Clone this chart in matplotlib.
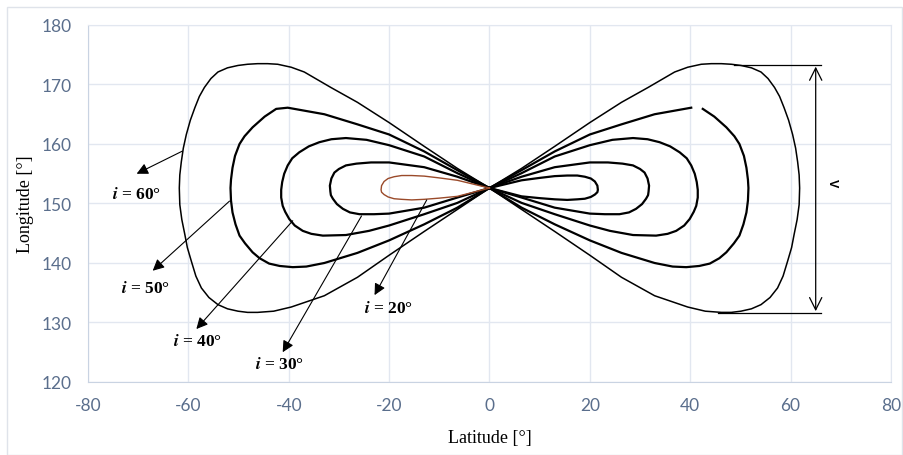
import numpy as np
import matplotlib
matplotlib.use("Agg")
import matplotlib.pyplot as plt
from matplotlib.patches import Rectangle

# ground track lobes (right lobe, upper and lower halves)
# the left lobe is the mirror image (latitude -> -latitude)
lat_60_up = [0, 6.4, 13.0, 20.0, 26.3, 31.6, 36.9, 39.5, 42.2, 44.2, 46.2, 48.2, 50.1, 52.2, 54.1,
             55.5, 56.8, 57.8, 58.7, 59.6, 60.4, 61.0, 61.4, 61.7, 61.8]
lon_60_up = [152.6, 155.9, 159.6, 163.6, 167.0, 169.5, 172.1, 172.9, 173.4, 173.5, 173.5, 173.4, 173.2, 172.8, 172.1,
             171.0, 169.5, 168.0, 166.1, 164.0, 161.6, 159.3, 157.0, 154.8, 152.6]
lat_60_lo = [0, 6.4, 13.0, 20.0, 26.3, 32.9, 39.5, 43.0, 46.2, 48.2, 50.1, 52.2, 54.1, 55.9, 57.4,
             58.5, 59.4, 60.2, 60.7, 61.3, 61.7, 61.8]
lon_60_lo = [152.6, 149.0, 145.3, 141.3, 137.6, 134.5, 132.6, 131.9, 131.7, 131.7, 131.9, 132.3, 133.0, 134.2, 135.8,
             137.8, 140.3, 142.6, 144.8, 147.3, 149.8, 152.6]

lat_50_up = [0, 6.4, 13.0, 20.0, 26.3, 32.9, 40.2, 42.5, 44.8, 47.2, 48.8, 49.8, 50.7, 51.2, 51.5, 51.6]
lon_50_up = [152.6, 155.6, 158.75, 161.6, 163.3, 165.0, 166.1, 165.9, 164.6, 162.8, 161.3, 160.0, 158.0, 156.0, 154.0, 152.6]
lat_50_lo = [0, 6.4, 13.0, 20.0, 26.3, 32.9, 36.5, 39.2, 41.8, 43.9, 45.8, 47.2, 48.7, 49.8, 50.6, 51.2, 51.5, 51.6]
lon_50_lo = [152.6, 149.3, 146.5, 143.8, 141.7, 140.0, 139.4, 139.3, 139.5, 139.9, 140.8, 141.8, 143.3, 144.6, 146.5,
             148.5, 150.5, 152.6]

lat_40_up = [0, 6.4, 13.0, 20.0, 24.5, 28.6, 31.5, 33.9, 36.0, 37.9, 39.3, 40.2, 40.9, 41.3, 41.5]
lon_40_up = [152.6, 155.1, 157.9, 159.8, 160.7, 161.0, 160.8, 160.3, 159.6, 158.6, 157.6, 156.4, 155.0, 153.6, 152.3]
lat_40_lo = [0, 6.4, 13.0, 20.0, 24.0, 28.6, 33.2, 35.5, 37.2, 38.8, 39.9, 40.7, 41.2, 41.5, 41.5]
lon_40_lo = [152.6, 150.1, 148.2, 146.3, 145.4, 144.7, 144.6, 144.9, 145.4, 146.3, 147.4, 148.6, 149.6, 151.0, 152.3]

lat_30_up = [0, 6.4, 13.0, 20.0, 23.6, 26.5, 28.6, 30.0, 30.9, 31.5, 31.8, 31.7]
lon_30_up = [152.6, 154.5, 156.1, 156.9, 156.9, 156.7, 156.4, 155.8, 155.2, 154.2, 153.0, 152.0]
lat_30_lo = [0, 6.4, 13.0, 20.0, 23.0, 25.9, 27.8, 29.2, 30.4, 31.2, 31.6, 31.7]
lon_30_lo = [152.6, 151.0, 149.3, 148.3, 148.2, 148.2, 148.5, 149.1, 149.9, 150.8, 151.4, 152.0]

lat_20_up = [0, 6.4, 10.0, 13.0, 15.5, 17.5, 19.0, 20.2, 21.0, 21.5, 21.6]
lon_20_up = [152.6, 153.9, 154.3, 154.6, 154.7, 154.7, 154.5, 154.2, 153.7, 153.0, 152.3]
lat_20_lo = [0, 6.4, 10.0, 13.0, 15.5, 17.5, 19.0, 20.2, 21.0, 21.5, 21.6]
lon_20_lo = [152.6, 151.2, 150.9, 150.7, 150.6, 150.7, 150.8, 151.1, 151.5, 151.9, 152.3]

incl = [60, 50, 40, 30, 20]
tracks = {
    60: (lat_60_up, lon_60_up, lat_60_lo, lon_60_lo),
    50: (lat_50_up, lon_50_up, lat_50_lo, lon_50_lo),
    40: (lat_40_up, lon_40_up, lat_40_lo, lon_40_lo),
    30: (lat_30_up, lon_30_up, lat_30_lo, lon_30_lo),
    20: (lat_20_up, lon_20_up, lat_20_lo, lon_20_lo),
}

# label positions, arrow start (on curve) and arrow tip
label_xy = [(-70.3, 151.6), (-68.5, 135.8), (-58.2, 126.9), (-41.8, 123.0), (-20.1, 132.4)]
arrow_from = [(-61.2, 158.8), (-51.8, 150.4), (-39.2, 147.1), (-25.5, 147.9), (-12.5, 150.6)]
arrow_to = [(-70.3, 155.0), (-67.1, 138.7), (-58.4, 128.9), (-41.2, 125.0), (-22.9, 134.6)]

x_ticks = [-80, -60, -40, -20, 0, 20, 40, 60, 80]
y_ticks = [120, 130, 140, 150, 160, 170, 180]

plt.rcParams['mathtext.fontset'] = 'stix'
plt.rcParams['axes.unicode_minus'] = False

fig = plt.figure(figsize=(9.04, 4.56), dpi=100)
ax = fig.add_axes([0.0973, 0.1601, 0.8883, 0.7829])

# outer light frame
fig.patches.append(Rectangle((7 / 904, 0.5 / 456), 895 / 904, 448 / 456,
                             transform=fig.transFigure, fill=False,
                             edgecolor='#dfe3ea', lw=1.0))

for i in incl:
    lu, nu, ll, nl = tracks[i]
    lw = 1.1 if i == 60 else 1.6
    x_r = list(lu) + list(ll[::-1])
    y_r = list(nu) + list(nl[::-1])
    if i == 50:
        # small break in the upper branch as in the original drawing
        ax.plot(lu[:7], nu[:7], color='black', lw=lw)
        ax.plot(list(lu[7:]) + list(ll[::-1]), list(nu[7:]) + list(nl[::-1]), color='black', lw=lw)
    else:
        ax.plot(x_r, y_r, color='black', lw=lw)
    left_color = '#9a4a2a' if i == 20 else 'black'
    ax.plot([-v for v in x_r], y_r, color=left_color, lw=(1.0 if i == 20 else lw))

for i, (tx, ty), p0, p1 in zip(incl, label_xy, arrow_from, arrow_to):
    ax.annotate('', xy=p1, xytext=p0,
                arrowprops=dict(arrowstyle='-|>', color='black', lw=0.8,
                                mutation_scale=17, shrinkA=0, shrinkB=0))
    ax.text(tx, ty, r'$\mathbfit{i}$ = ' + f'{i}°', ha='center', va='center',
            fontsize=12.5, fontweight='bold', family='Liberation Serif')

# amplitude marker on the right
ax.plot([48.8, 66.1], [173.3, 173.3], color='black', lw=0.9)
ax.plot([45.6, 66.1], [131.6, 131.6], color='black', lw=0.9)
ax.annotate('', xy=(65.0, 173.0), xytext=(65.0, 131.9),
            arrowprops=dict(arrowstyle='<->', color='black', lw=0.9,
                            mutation_scale=22, shrinkA=0, shrinkB=0))
ax.text(68.2, 153.6, 'V', rotation=270, ha='center', va='center',
        fontsize=9, fontweight='bold', family='Liberation Sans')

ax.set_xlim(-80, 80)
ax.set_ylim(120, 180)
ax.set_xticks(x_ticks)
ax.set_yticks(y_ticks)
ax.grid(True, color='#e2e7f0', lw=1.0)
ax.set_axisbelow(True)
for s in ['top', 'right']:
    ax.spines[s].set_color('#e2e7f0')
for s in ['left', 'bottom']:
    ax.spines[s].set_color('#c9d3e2')
ax.tick_params(length=0, labelsize=12.5, labelcolor='#5a6e8c')
ax.tick_params(axis='y', pad=12)
ax.tick_params(axis='x', pad=11)
for lab in ax.get_xticklabels() + ax.get_yticklabels():
    lab.set_family('Lato')

ax.set_xlabel('Latitude [°]', family='Liberation Serif', fontsize=13, labelpad=11)
ax.set_ylabel('Longitude [°]', family='Liberation Serif', fontsize=13, labelpad=5)

fig.savefig('out.png', dpi=100)
